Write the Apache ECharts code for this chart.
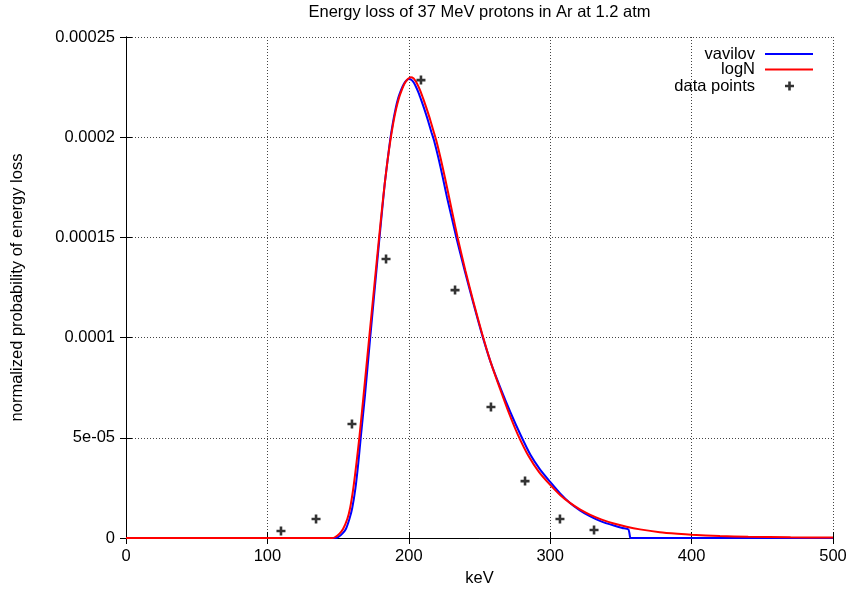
<!DOCTYPE html>
<html>
<head>
<meta charset="utf-8">
<script src="https://cdn.jsdelivr.net/npm/echarts@6/dist/echarts.min.js"></script>
<style>html,body{margin:0;padding:0;background:#fff;}#c{width:849px;height:593px;}</style>
</head>
<body>
<div id="c"></div>
<script>
// ---- data ----
const titleText = 'Energy loss of 37 MeV protons in Ar at 1.2 atm';
const xName = 'keV';
const yName = 'normalized probability of energy loss';
const xTicks = [0, 100, 200, 300, 400, 500];
const yTickValues = [0, 0.00005, 0.0001, 0.00015, 0.0002, 0.00025];
const yTickLabels = ['0', '5e-05', '0.0001', '0.00015', '0.0002', '0.00025'];

const vavilovX = [0, 148, 150, 153, 155.5, 158, 160, 162.3, 164.3, 166, 169, 172.7, 176, 179.3, 181.2, 183, 185, 186.8, 188.7, 190.6, 192.5, 194.5, 196.5, 198.3, 200.1, 202, 203.7, 205.3, 207, 208.8, 211, 213.5, 216, 217.8, 221, 224, 227, 230.3, 233.6, 239.5, 245.7, 251.8, 258, 265, 272, 279, 286, 293, 300, 307, 314, 321, 328, 336, 345, 351, 355.3, 356.5, 357, 500];
const vavilovY = [0, 0, 0.4e-6, 2.2e-6, 4.5e-6, 9.5e-6, 15e-6, 25e-6, 37.5e-6, 50e-6, 71e-6, 100e-6, 125e-6, 150e-6, 164e-6, 177e-6, 188.5e-6, 198.5e-6, 207e-6, 214e-6, 219.5e-6, 223.5e-6, 226.5e-6, 228.3e-6, 229e-6, 228.5e-6, 227e-6, 224.8e-6, 222e-6, 218.5e-6, 214e-6, 208.5e-6, 202.5e-6, 198.5e-6, 189.5e-6, 180e-6, 170e-6, 160e-6, 150e-6, 133.5e-6, 117e-6, 101.5e-6, 87.5e-6, 74.5e-6, 62.5e-6, 51.5e-6, 41.5e-6, 34e-6, 28e-6, 22.3e-6, 17.5e-6, 13.8e-6, 10.9e-6, 8.3e-6, 6.2e-6, 5e-6, 4.3e-6, 0.4e-6, 0, 0];

const logNX = [0, 146, 148, 151, 153.5, 156.5, 158.5, 160.8, 163, 165, 168, 172, 175.5, 179, 181, 183, 185, 187, 189, 191, 193, 195, 197, 199, 201.3, 203.5, 205, 206.7, 208.5, 210.3, 212.5, 215, 217.5, 219.4, 222.5, 225.5, 228.5, 231.5, 234.5, 240, 246, 252, 258, 264.5, 271, 277.5, 285, 292, 300, 307, 314, 321, 328, 336, 345, 354, 363.5, 377.5, 390, 400, 420, 440, 470, 500];
const logNY = [0, 0, 0.5e-6, 2.2e-6, 4.5e-6, 9.5e-6, 15e-6, 25e-6, 37.5e-6, 50e-6, 71e-6, 100e-6, 125e-6, 150e-6, 164e-6, 177e-6, 188.5e-6, 198.5e-6, 207e-6, 214e-6, 219.5e-6, 223.5e-6, 226.8e-6, 228.8e-6, 229.9e-6, 229.3e-6, 227.8e-6, 225.5e-6, 222.5e-6, 219e-6, 214.5e-6, 209e-6, 203e-6, 198.5e-6, 189.5e-6, 180e-6, 170e-6, 160e-6, 150e-6, 133.5e-6, 117e-6, 101.5e-6, 87.5e-6, 74.5e-6, 62e-6, 51e-6, 40.5e-6, 33e-6, 26.5e-6, 21.5e-6, 17.5e-6, 14.3e-6, 11.7e-6, 9.3e-6, 7.2e-6, 5.6e-6, 4.3e-6, 2.9e-6, 2.1e-6, 1.6e-6, 0.95e-6, 0.6e-6, 0.35e-6, 0.2e-6];

const pointsX = [109.6, 134.4, 159.8, 183.9, 208.6, 232.7, 258.1, 282.2, 306.9, 331.0];
const pointsY = [3.5e-6, 9.5e-6, 5.69e-5, 1.392e-4, 2.285e-4, 1.237e-4, 6.54e-5, 2.84e-5, 9.5e-6, 4.0e-6];

const seriesNames = ['vavilov', 'logN', 'data points'];

// ---- chart ----
const zip = (xs, ys) => xs.map((x, i) => [x, ys[i]]);
const FONT = '"Liberation Sans", Arial, Helvetica, sans-serif';
const FS = 16.5;
const plus = 'path://M3.2,0H5.8V3.2H9V5.8H5.8V9H3.2V5.8H0V3.2H3.2Z';
const chart = echarts.init(document.getElementById('c'), null, {renderer: 'canvas'});

const G = {left: 126, right: 16, top: 37, bottom: 55};
const axisLine = {show: true, lineStyle: {color: '#000', width: 1}};
const splitLine = {show: true, lineStyle: {color: '#444', type: [1, 2], width: 1}};
const tick = {show: true, inside: true, length: 6, lineStyle: {color: '#000'}};
const legendText = (pr) => ({fontFamily: FONT, fontSize: FS, color: '#000', padding: [0, pr, 0, 0]});

chart.setOption({
  animation: false,
  backgroundColor: '#fff',
  textStyle: {fontFamily: FONT},
  graphic: [{
    type: 'text', x: G.left + (849 - G.left - G.right) / 2, y: 12,
    style: {text: titleText, fontFamily: FONT, fontSize: FS, fill: '#000', align: 'center', verticalAlign: 'middle'}
  }],
  grid: Object.assign({outerBoundsMode: 'none', containLabel: false}, G),
  legend: [
    {data: [seriesNames[0]], orient: 'vertical', right: 36, top: 45.5, padding: 0, align: 'right',
     itemWidth: 48, itemHeight: 14, icon: 'path://M0,6H48V8H0Z', textStyle: legendText(5)},
    {data: [seriesNames[1]], orient: 'vertical', right: 36, top: 61, padding: 0, align: 'right',
     itemWidth: 48, itemHeight: 14, icon: 'path://M0,6H48V8H0Z', textStyle: legendText(5)},
    {data: [seriesNames[2]], orient: 'vertical', right: 55, top: 77.5, padding: 0, align: 'right',
     itemWidth: 9, itemHeight: 9, textStyle: legendText(25)}
  ],
  xAxis: [
    {type: 'value', min: 0, max: 500, interval: 100, position: 'bottom',
     name: xName, nameLocation: 'middle', nameGap: 32,
     nameTextStyle: {fontFamily: FONT, fontSize: FS, color: '#000'},
     axisLine: axisLine, axisTick: tick, splitLine: splitLine,
     axisLabel: {fontFamily: FONT, fontSize: FS, color: '#000', margin: 10,
       formatter: v => String(xTicks[xTicks.indexOf(v)])}},
    {type: 'value', min: 0, max: 500, interval: 100, position: 'top',
     axisLine: axisLine, axisTick: tick, splitLine: {show: false}, axisLabel: {show: false}}
  ],
  yAxis: [
    {type: 'value', min: 0, max: 0.00025, interval: 0.00005, position: 'left',
     name: yName, nameLocation: 'middle', nameGap: 100,
     nameTextStyle: {fontFamily: FONT, fontSize: FS, color: '#000'},
     axisLine: axisLine, axisTick: tick, splitLine: splitLine,
     axisLabel: {fontFamily: FONT, fontSize: FS, color: '#000', margin: 11,
       formatter: v => {
         const i = yTickValues.findIndex(t => Math.abs(t - v) < 1e-12);
         return i >= 0 ? yTickLabels[i] : '';
       }}},
    {type: 'value', min: 0, max: 0.00025, interval: 0.00005, position: 'right',
     axisLine: axisLine, axisTick: tick, splitLine: {show: false}, axisLabel: {show: false}}
  ],
  series: [
    {name: seriesNames[0], type: 'line', data: zip(vavilovX, vavilovY),
     xAxisIndex: 0, yAxisIndex: 0, showSymbol: false, symbol: 'none', smooth: 0.2,
     lineStyle: {color: '#0000ff', width: 2}, itemStyle: {color: '#0000ff'}, z: 3},
    {name: seriesNames[1], type: 'line', data: zip(logNX, logNY),
     xAxisIndex: 0, yAxisIndex: 0, showSymbol: false, symbol: 'none', smooth: 0.2,
     lineStyle: {color: '#ff0000', width: 2}, itemStyle: {color: '#ff0000'}, z: 4},
    {name: seriesNames[2], type: 'scatter', data: zip(pointsX, pointsY),
     xAxisIndex: 0, yAxisIndex: 0, symbol: plus, symbolSize: 9,
     itemStyle: {color: '#000'}, z: 5}
  ]
});
</script>
</body>
</html>
